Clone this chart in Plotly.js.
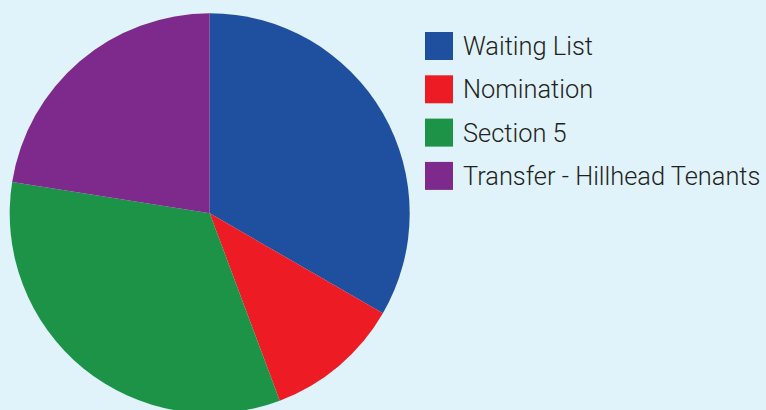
<!DOCTYPE html>
<html>
<head>
<meta charset="utf-8">
<script src="https://cdn.plot.ly/plotly-3.0.1.min.js"></script>
<style>
html,body{margin:0;padding:0;overflow:hidden;background:#e0f3fa;}
#chart{width:766px;height:430px;}
</style>
</head>
<body>
<div id="chart"></div>
<script>
// Data (slice sizes, in degrees of the circle)
var labels = ["Waiting List", "Nomination", "Section 5", "Transfer - Hillhead Tenants"];
var values = [120, 39.5, 119.5, 81];
var colors = ["#1f4f9f", "#ed1c24", "#1c9346", "#7d2a8c"];

var W = 766, H = 430;

var trace = {
  type: "pie",
  labels: labels,
  values: values,
  sort: false,
  direction: "clockwise",
  rotation: 0,
  textinfo: "none",
  hoverinfo: "label+percent",
  showlegend: false,
  marker: {colors: colors, line: {width: 0}},
  domain: {x: [9.7 / W, 409.7 / W], y: [(H - 413.3) / H, (H - 13.3) / H]}
};

// Custom legend built from the label/color arrays
var shapes = [], annotations = [];
var legX0 = 425, legSize = 28, legTextX = 461, legY0 = 46, legStep = 43.3;
labels.forEach(function (lab, i) {
  var yc = legY0 + i * legStep;
  shapes.push({
    type: "rect", xref: "paper", yref: "paper",
    x0: legX0 / W, x1: (legX0 + legSize) / W,
    y0: (H - yc - legSize / 2) / H, y1: (H - yc + legSize / 2) / H,
    fillcolor: colors[i], line: {width: 0}
  });
  annotations.push({
    xref: "paper", yref: "paper", x: legTextX / W, y: (H - yc) / H,
    xanchor: "left", yanchor: "middle", showarrow: false, text: lab,
    font: {family: "Roboto, 'Liberation Sans', sans-serif", size: 25.4, color: "#231f20", weight: 300}
  });
});

var layout = {
  width: W, height: H,
  margin: {l: 0, r: 0, t: 0, b: 0, pad: 0},
  paper_bgcolor: "#e0f3fa",
  plot_bgcolor: "#e0f3fa",
  showlegend: false,
  shapes: shapes,
  annotations: annotations
};

Plotly.newPlot("chart", [trace], layout, {displayModeBar: false, staticPlot: true});
</script>
</body>
</html>
